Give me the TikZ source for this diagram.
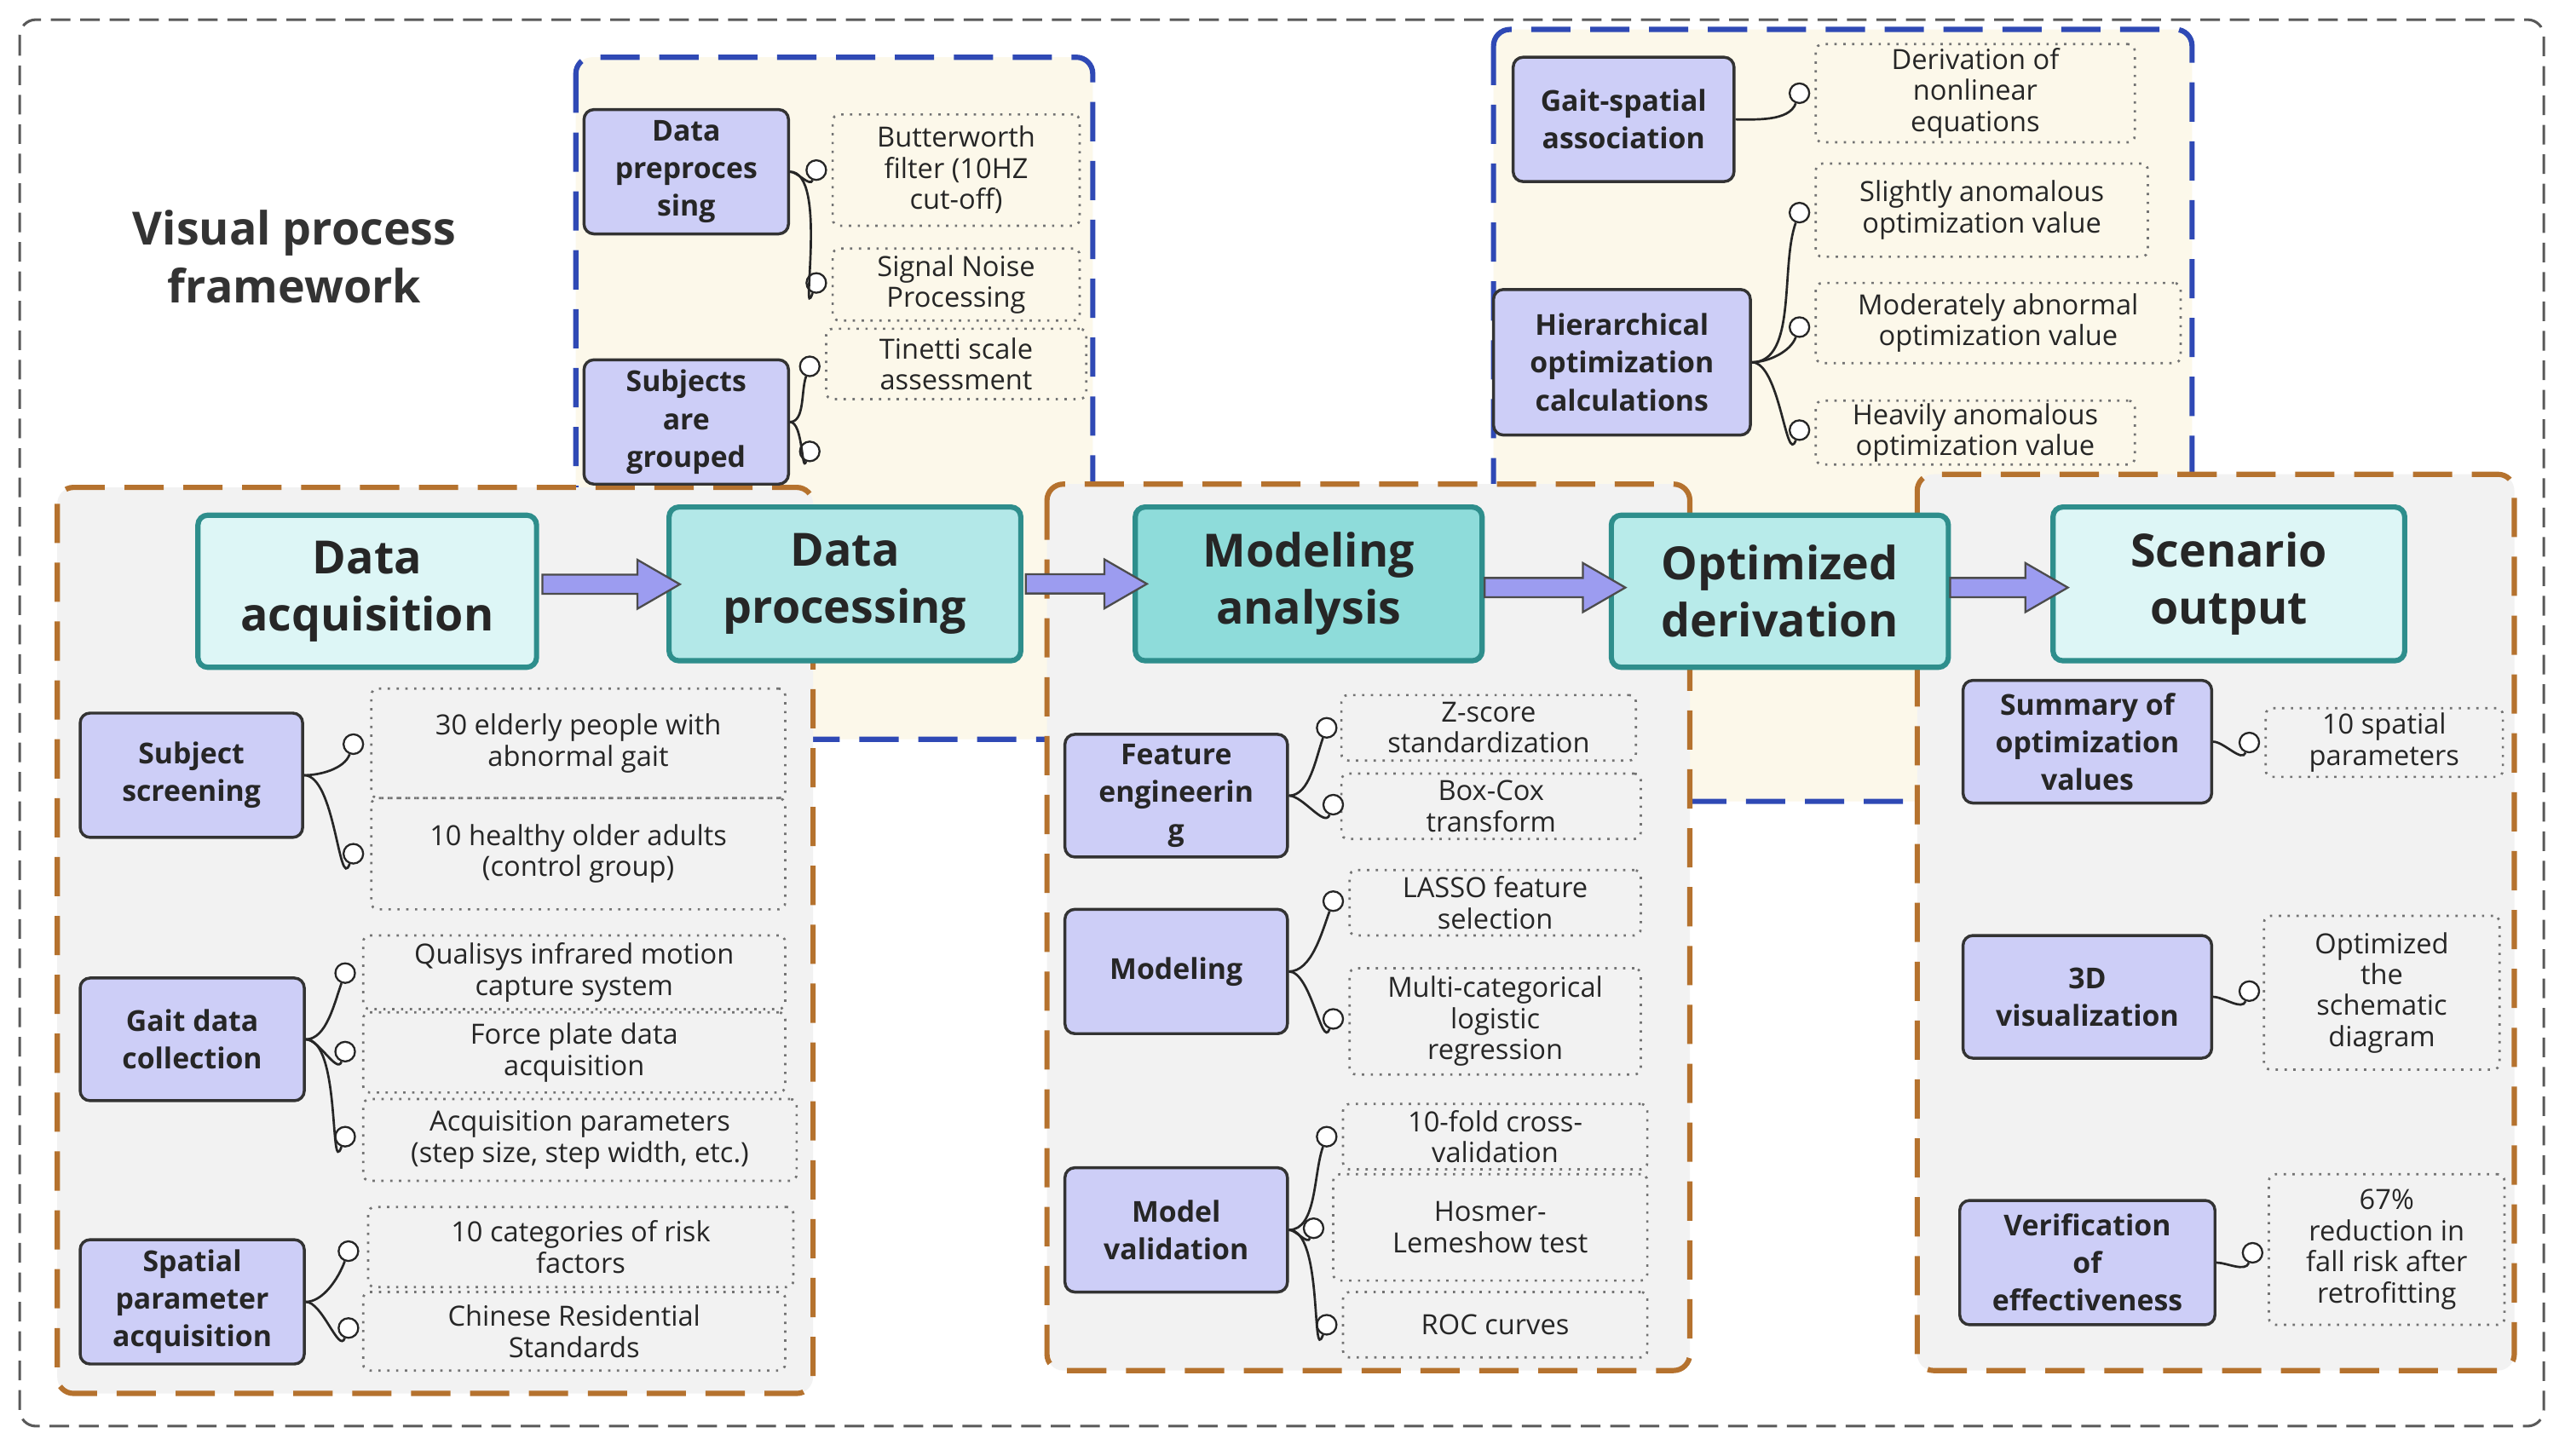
\documentclass[tikz,border=0pt]{standalone}
\usepackage{fontspec}
\setmainfont{Open Sans}
\usetikzlibrary{shapes.arrows,calc}
\definecolor{orng}{HTML}{B5722E}
\definecolor{blu}{HTML}{2F49B5}
\definecolor{cream}{HTML}{FCF8EA}
\definecolor{lgray}{HTML}{F2F2F2}
\definecolor{lav}{HTML}{CDCEF7}
\definecolor{teal1}{HTML}{2E8E8C}
\definecolor{tA}{HTML}{DDF6F6}
\definecolor{tB}{HTML}{B3E8E8}
\definecolor{tC}{HTML}{8EDCDA}
\definecolor{tD}{HTML}{B8EBEA}
\definecolor{arr}{HTML}{9C9CF0}
\tikzset{
 region/.style={draw, dash pattern=on 12pt off 6pt, line width=1.6pt, rounded corners=5pt},
 main/.style={draw=teal1, line width=1.6pt, rounded corners=3pt, font=\fontsize{14}{17.5}\selectfont\bfseries, align=center, text=black!85, inner sep=0pt},
 sub/.style={draw=black!80, line width=0.9pt, fill=lav, rounded corners=3pt, font=\fontsize{8.8}{11.5}\selectfont\bfseries, align=center, text=black!85, inner sep=0pt},
 leaf/.style={draw=black!55, dotted, line width=0.7pt, rounded corners=2pt, font=\fontsize{8.5}{9.5}\selectfont, align=center, text=black!85, inner sep=0pt},
 dot/.style={circle, draw=black!85, fill=white, line width=0.6pt, minimum size=6pt, inner sep=0pt},
 link/.style={draw=black!85, line width=0.7pt},
 fat/.style={single arrow, draw=black!70, fill=arr, line width=0.6pt, inner sep=2.6pt, minimum width=15pt, single arrow head extend=4.5pt, single arrow tip angle=60, shape border rotate=0}
}
\newcommand\nb[7]{\node[#1, minimum width={(#5-#3)*0.5pt}, minimum height={(#6-#4)*0.5pt}] (#2) at ({(#3+#5)/2},{(#4+#6)/2}) {#7};}
\begin{document}
\begin{tikzpicture}[x=0.5pt,y=-0.5pt]
\useasboundingbox (0,0) rectangle (1568,890);
\fill[white] (0,0) rectangle (1568,890);
\draw[black!65, dash pattern=on 6pt off 3pt, line width=0.8pt, rounded corners=5pt] (12,12) rectangle (1555,872);
\draw[region, draw=blu, fill=cream] (352,35) rectangle (668,452);
\draw[region, draw=blu, fill=cream] (913,18) rectangle (1340,490);
\draw[region, draw=orng, fill=lgray] (35,298) rectangle (497,852);
\draw[region, draw=orng, fill=lgray] (640,296) rectangle (1033,838);
\draw[region, draw=orng, fill=lgray] (1172,290) rectangle (1537,838);
\node[font=\fontsize{14}{17.5}\selectfont\bfseries, align=center, text=black!80] (title) at (180,157) {Visual process\\framework};
\nb{main, fill=tA}{m1}{121}{315}{328}{408}{Data\\acquisition}
\nb{main, fill=tB}{m2}{409}{310}{624}{404}{Data\\processing}
\nb{main, fill=tC}{m3}{694}{310}{906}{404}{Modeling\\analysis}
\nb{main, fill=tD}{m4}{985}{315}{1191}{408}{Optimized\\derivation}
\nb{main, fill=tA}{m5}{1255}{310}{1470}{404}{Scenario\\output}
\node[fat, minimum height=42pt] (a1) at ($(m1.east)!0.5!(m2.west)+(0,-2)$) {};
\node[fat, minimum height=37pt] (a2) at ($(m2.east)!0.5!(m3.west)$) {};
\node[fat, minimum height=43pt] (a3) at ($(m3.east)!0.5!(m4.west)$) {};
\node[fat, minimum height=36pt] (a4) at ($(m4.east)!0.5!(m5.west)$) {};
\nb{sub}{s1}{357}{67}{482}{143}{Data\\preproces\\sing}
\nb{sub}{s2}{357}{220}{482}{296}{Subjects\\are\\grouped}
\nb{sub}{s3}{925}{35}{1060}{111}{Gait-spatial\\association}
\nb{sub}{s4}{913}{177}{1070}{266}{Hierarchical\\optimization\\calculations}
\nb{sub}{s5}{49}{436}{185}{512}{Subject\\screening}
\nb{sub}{s6}{49}{598}{186}{673}{Gait data\\collection}
\nb{sub}{s7}{49}{758}{186}{834}{Spatial\\parameter\\acquisition}
\nb{sub}{s8}{651}{449}{787}{524}{Feature\\engineerin\\g}
\nb{sub}{s9}{651}{556}{787}{632}{Modeling}
\nb{sub}{s10}{651}{714}{787}{790}{Model\\validation}
\nb{sub}{s11}{1200}{416}{1352}{491}{Summary of\\optimization\\values}
\nb{sub}{s12}{1200}{572}{1352}{647}{3D\\visualization}
\nb{sub}{s13}{1198}{734}{1354}{810}{Verification\\of\\effectiveness}
\nb{leaf}{l1}{509}{70}{660}{138}{Butterworth\\filter (10HZ\\cut-off)}
\nb{leaf}{l2}{509}{152}{660}{196}{Signal Noise\\Processing}
\nb{leaf}{l3}{505}{201}{664}{244}{Tinetti scale\\assessment}
\nb{leaf}{l4}{1110}{27}{1305}{87}{Derivation of\\nonlinear\\equations}
\nb{leaf}{l5}{1110}{100}{1313}{157}{Slightly anomalous\\optimization value}
\nb{leaf}{l6}{1110}{173}{1333}{222}{Moderately abnormal\\optimization value}
\nb{leaf}{l7}{1110}{245}{1305}{284}{Heavily anomalous\\optimization value}
\nb{leaf}{l8}{227}{421}{480}{488}{30 elderly people with\\abnormal gait}
\nb{leaf}{l9}{227}{488}{480}{556}{10 healthy older adults\\(control group)}
\nb{leaf}{l10}{222}{572}{480}{617}{Qualisys infrared motion\\capture system}
\nb{leaf}{l11}{222}{619}{480}{668}{Force plate data\\acquisition}
\nb{leaf}{l12}{222}{672}{487}{722}{Acquisition parameters\\(step size, step width, etc.)}
\nb{leaf}{l13}{225}{738}{485}{787}{10 categories of risk\\factors}
\nb{leaf}{l14}{222}{790}{480}{838}{Chinese Residential\\Standards}
\nb{leaf}{l15}{820}{425}{1000}{465}{Z-score\\standardization}
\nb{leaf}{l16}{820}{473}{1003}{513}{Box-Cox\\transform}
\nb{leaf}{l17}{825}{532}{1003}{572}{LASSO feature\\selection}
\nb{leaf}{l18}{825}{592}{1003}{657}{Multi-categorical\\logistic\\regression}
\nb{leaf}{l19}{821}{675}{1007}{715}{10-fold cross-\\validation}
\nb{leaf}{l20}{815}{718}{1007}{783}{Hosmer-\\Lemeshow test}
\nb{leaf}{l21}{821}{790}{1007}{830}{ROC curves}
\nb{leaf}{l22}{1385}{433}{1530}{475}{10 spatial\\parameters}
\nb{leaf}{l23}{1384}{560}{1528}{654}{Optimized\\the\\schematic\\diagram}
\nb{leaf}{l24}{1387}{718}{1531}{810}{67\%\\reduction in\\fall risk after\\retrofitting}
\foreach \n/\x/\y in {c1/499/104,c2/499/173,c3/495/224,c4/495/276,c5/1100/57,c6/1100/130,c7/1100/200,c8/1100/263,
 c9/216/455,c10/216/522,c11/211/595,c12/211/643,c13/211/695,c14/213/765,c15/213/812,
 c16/811/445,c17/815/492,c18/815/551,c19/815/623,c20/811/695,c21/803/751,c22/811/810,
 c23/1375/454,c24/1375/606,c25/1377/766}
 {\node[dot] (\n) at (\x,\y) {};}
\foreach \s/\c in {s1/c1,s1/c2,s2/c3,s2/c4,s3/c5,s4/c6,s4/c7,s4/c8,s5/c9,s5/c10,s6/c11,s6/c12,s6/c13,s7/c14,s7/c15,
 s8/c16,s8/c17,s9/c18,s9/c19,s10/c20,s10/c21,s10/c22,s11/c23,s12/c24,s13/c25}
 {\draw[link] (\s.east) to[out=0,in=250,looseness=0.8] (\c);}
\end{tikzpicture}
\end{document}
